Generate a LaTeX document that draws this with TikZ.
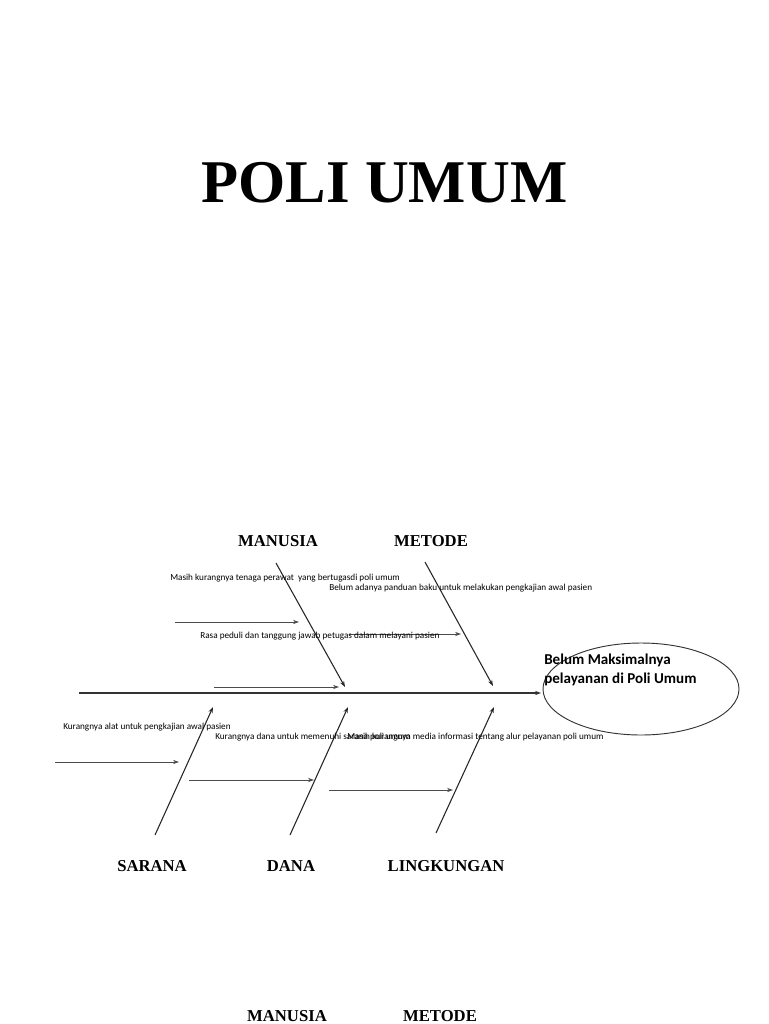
\documentclass[tikz,border=0pt]{standalone}
\usepackage{fontspec}
\setmainfont{Liberation Serif}
\newfontfamily\calfont{Carlito}
\usetikzlibrary{arrows.meta,shapes.geometric}
\begin{document}
\begin{tikzpicture}[x=0.75pt,y=-0.75pt,
  bone/.style={draw=black!85,line width=0.8pt,-{Stealth[length=4.5pt,width=3.2pt]}},
  sub/.style={draw=black!70,line width=0.7pt,-{Stealth[length=4.5pt,width=3.2pt]}},
  spine/.style={draw=black!80,line width=1.1pt,-{Stealth[length=4.5pt,width=3.2pt]}},
  cat/.style={font=\fontsize{12.5}{14}\selectfont\bfseries,anchor=base,inner sep=0pt},
  cause/.style={font=\calfont\fontsize{6.9}{8}\selectfont,anchor=west,inner sep=0pt},
  effect/.style={draw=black!80,line width=0.7pt,ellipse,minimum width=147pt,minimum height=69pt,inner sep=0pt}]
\useasboundingbox (0,0) rectangle (768,1024);
\fill[white] (0,0) rectangle (768,1024);

\node[font=\fontsize{45.5}{50}\selectfont\bfseries,anchor=base,inner sep=0pt] (title) at (384.5,202) {POLI UMUM};

% categories
\node[cat] (manusia) at (278,546.5) {MANUSIA};
\node[cat] (metode) at (431,546.5) {METODE};
\node[cat] (sarana) at (152,871.5) {SARANA};
\node[cat] (dana) at (291,871.5) {DANA};
\node[cat] (lingkungan) at (446,871.5) {LINGKUNGAN};
\node[cat] (manusia2) at (287,1021.5) {MANUSIA};
\node[cat] (metode2) at (440,1021.5) {METODE};

% effect
\node[effect] (head) at (641,689) {};
\node[font=\calfont\fontsize{11.3}{14.25}\selectfont\bfseries,anchor=north west,align=left,inner sep=0pt] (headtext) at (544,654) {Belum Maksimalnya\\pelayanan di Poli Umum};

% spine
\coordinate (tail) at (79,693);
\coordinate (spineend) at (541,693);
\draw[spine] (tail) -- (spineend);

% bones
\coordinate (manT) at (276,563);  \coordinate (manH) at (345,687);
\coordinate (metT) at (425,562);  \coordinate (metH) at (493,686);
\coordinate (sarT) at (155,835);  \coordinate (sarH) at (213,707);
\coordinate (danT) at (290,835);  \coordinate (danH) at (348,707);
\coordinate (linT) at (436,833);  \coordinate (linH) at (494,707);
\draw[bone] (manT) -- (manH);
\draw[bone] (metT) -- (metH);
\draw[bone] (sarT) -- (sarH);
\draw[bone] (danT) -- (danH);
\draw[bone] (linT) -- (linH);

% sub-cause arrows
\coordinate (s1a) at (175,622); \coordinate (s1b) at (299,622);
\coordinate (s2a) at (214,687); \coordinate (s2b) at (339,687);
\coordinate (s3a) at (349,634); \coordinate (s3b) at (461,634);
\coordinate (s4a) at (55,762);  \coordinate (s4b) at (179,762);
\coordinate (s5a) at (189,780); \coordinate (s5b) at (314,780);
\coordinate (s6a) at (329,790); \coordinate (s6b) at (453,790);
\draw[sub] (s1a) -- (s1b);
\draw[sub] (s2a) -- (s2b);
\draw[sub] (s3a) -- (s3b);
\draw[sub] (s4a) -- (s4b);
\draw[sub] (s5a) -- (s5b);
\draw[sub] (s6a) -- (s6b);

% cause texts
\node[cause] (c1) at (170,578) {Masih kurangnya tenaga perawat\ \ yang bertugasdi poli umum};
\node[cause] (c2) at (329,588) {Belum adanya panduan baku untuk melakukan pengkajian awal pasien};
\node[cause] (c3) at (200,636) {Rasa peduli dan tanggung jawab petugas dalam melayani pasien};
\node[cause] (c4) at (63,727) {Kurangnya alat untuk pengkajian awal pasien};
\node[cause] (c5) at (215,737) {Kurangnya dana untuk memenuhi sarana poli umum};
\node[cause] (c6) at (347,737) {Masih kurangnya media informasi tentang alur pelayanan poli umum};
\end{tikzpicture}
\end{document}
